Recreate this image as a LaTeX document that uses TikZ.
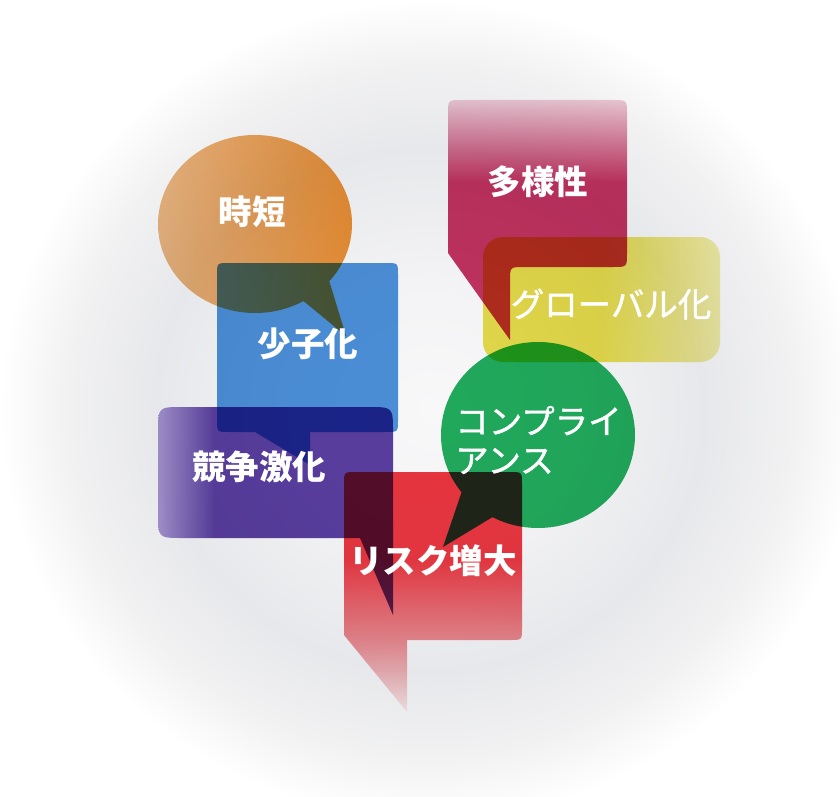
\documentclass[tikz,border=0pt]{standalone}
\usepackage{fontspec}
\usetikzlibrary{calc}
\newfontfamily\jp{Noto Sans CJK JP}
\newfontfamily\jpm{Noto Sans CJK JP}[FakeBold=1.2]
\definecolor{bgA}{HTML}{F8F8F9}
\definecolor{bgB}{HTML}{F3F3F5}
\definecolor{bgC}{HTML}{E7E8EB}
\definecolor{bgD}{HTML}{F1F1F2}
\definecolor{oraL}{HTML}{ECBA88}
\definecolor{oraR}{HTML}{EE9032}
\definecolor{blu}{HTML}{4E93DC}
\definecolor{purL}{HTML}{AC9AD6}
\definecolor{pur}{HTML}{5C40A2}
\definecolor{redT}{HTML}{EE3842}
\definecolor{redP}{HTML}{F08C92}
\definecolor{redW}{HTML}{FCEEEF}
\definecolor{grn}{HTML}{22AE5E}
\definecolor{crim}{HTML}{C63462}
\definecolor{crimT}{HTML}{F0CCD8}
\definecolor{yel}{HTML}{E8DE4C}
\definecolor{yelR}{HTML}{F2EEA8}
\pgfdeclareradialshading{bgshade}{\pgfpoint{0bp}{0bp}}{color(0bp)=(bgA); color(8bp)=(bgB); color(16bp)=(bgC); color(21bp)=(bgD); color(25bp)=(white); color(50bp)=(white)}
\pgfdeclarehorizontalshading{purshade}{100bp}{color(0bp)=(purL); color(25bp)=(purL); color(37bp)=(pur); color(100bp)=(pur)}
\pgfdeclarehorizontalshading{yelshade}{100bp}{color(0bp)=(yel); color(25bp)=(yel); color(50bp)=(yel); color(75bp)=(yelR); color(100bp)=(yelR)}
\pgfdeclareverticalshading{redshade}{100bp}{color(0bp)=(redW); color(25bp)=(redW); color(40bp)=(redP); color(57bp)=(redT); color(100bp)=(redT)}
\pgfdeclareverticalshading{crimshade}{100bp}{color(0bp)=(crim); color(58bp)=(crim); color(75bp)=(crimT); color(100bp)=(crimT)}
\tikzset{
  lbl/.style={text=white, inner sep=0pt, font=\jp\bfseries\fontsize{33.5}{39}\selectfont},
  lblr/.style={text=white, inner sep=0pt, font=\jpm\fontsize{33.5}{39}\selectfont},
}
\begin{document}
\begin{tikzpicture}[x=1pt,y=-1pt]
\useasboundingbox (0,0) rectangle (840,797);
\fill[white] (0,0) rectangle (840,797);
\begin{scope}
  \clip (0,0) rectangle (840,797);
  \shade[shading=bgshade] (0,0) rectangle (860,820);
\end{scope}
\begin{scope}[blend mode=multiply]
  % orange speech circle
  \shade[left color=oraL, right color=oraR]
    (346,336) -- ($(255,224)+(60:97 and 89)$)
    arc[start angle=60, end angle=400, x radius=97, y radius=89] -- cycle;
  % blue box
  \fill[blu] (217,275) .. controls (217,263) .. (229,263) -- (386,263)
    .. controls (398,263) .. (398,275) -- (398,420) .. controls (398,432) .. (386,432)
    -- (310,432) -- (310,465) -- (255,432) -- (229,432) .. controls (217,432) .. (217,420) -- cycle;
  % purple box
  \shade[shading=purshade] (158,432) .. controls (158,407) .. (183,407) -- (368,407)
    .. controls (393,407) .. (393,432) -- (393,615) -- (360,538) -- (183,538)
    .. controls (158,538) .. (158,513) -- cycle;
  % red box
  \shade[shading=redshade] (344,484) .. controls (344,472) .. (356,472) -- (510,472)
    .. controls (522,472) .. (522,484) -- (522,628) .. controls (522,640) .. (510,640)
    -- (407,640) -- (407,712) -- (344,635) -- cycle;
  % green circle
  \fill[grn] (443,547) -- ($(538,435)+(142:97 and 93)$)
    arc[start angle=142, end angle=478, x radius=97, y radius=93] -- cycle;
  % yellow box
  \shade[shading=yelshade, rounded corners=20] (483,237) rectangle (720,362);
  % crimson box
  \shade[shading=crimshade] (448,253) -- (448,114) .. controls (448,100) .. (462,100)
    -- (613,100) .. controls (627,100) .. (627,114) -- (627,253)
    .. controls (627,267) .. (613,267) -- (524,267) .. controls (510,267) .. (510,281)
    -- (510,340) -- cycle;
\end{scope}
\node[lbl] (t1) at (252,212) {時短};
\node[lbl] (t2) at (308,344) {少子化};
\node[lbl] (t3) at (538,182) {多様性};
\node[lblr] (t4) at (611,304) {グローバル化};
\node[lblr, anchor=west, align=left] (t5) at (455,440) {コンプライ\\アンス};
\node[lbl] (t6) at (259,467) {競争激化};
\node[lbl] (t7) at (433,561) {リスク増大};
\end{tikzpicture}
\end{document}
